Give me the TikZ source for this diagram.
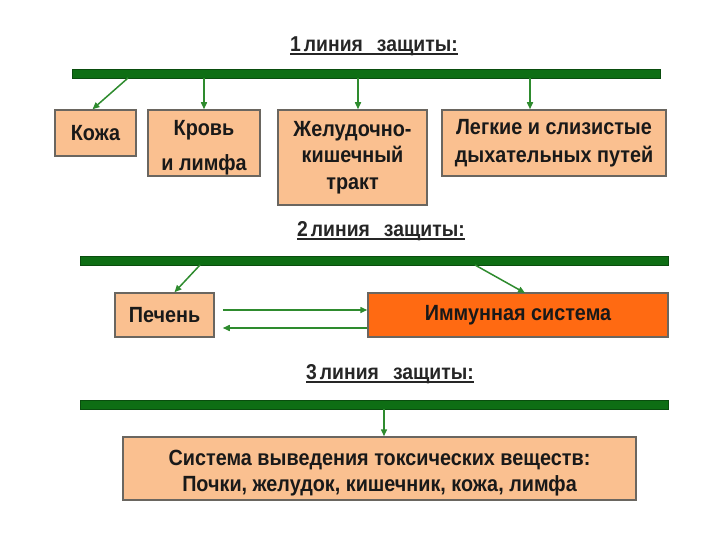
\documentclass[tikz,border=0pt]{standalone}
\usepackage{fontspec}
\setmainfont{Liberation Sans}[FakeStretch=0.9]
\usetikzlibrary{arrows.meta}
\newcommand\thul[1]{\setbox0\hbox{#1}\makebox[0pt][l]{\rule[-3.5pt]{\wd0}{1.4pt}}\box0}
\newcommand\tallstrut{\rule{0pt}{24pt}}
\definecolor{peach}{HTML}{FAC090}
\definecolor{barg}{HTML}{0E6E14}
\definecolor{arrg}{HTML}{2E8B2E}
\definecolor{imm}{HTML}{FF6A12}
\definecolor{bord}{HTML}{6A6660}
\tikzset{
  box/.style={draw=bord, line width=1.5pt, fill=peach, align=center, inner sep=0pt,
    font=\bfseries\fontsize{22}{27}\selectfont, text=black!90},
  bar/.style={fill=barg, draw=barg!70!black, line width=0.6pt, inner sep=0pt, minimum height=9pt},
  arr/.style={draw=arrg, line width=1.5pt, -{Triangle[length=7pt,width=6pt]}},
  ttl/.style={font=\bfseries\fontsize{21.5}{22}\selectfont, text=black!85}
}
\begin{document}
\begin{tikzpicture}[x=1pt,y=-1pt]
\useasboundingbox (0,0) rectangle (720,540);
% ---------- line 1
\node[ttl] (t1) at (374,46) {\thul{1\hspace{3pt}линия\hspace{14pt}защиты:}};
\node[bar, minimum width=588] (bar1) at (366,73.5) {};
\node[box, minimum width=81, minimum height=46] (kozha) at (95.5,133) {Кожа};
\node[box, minimum width=112, minimum height=66, font=\bfseries\fontsize{22}{35}\selectfont] (krov) at (204,143) {\tallstrut Кровь\\и лимфа};
\node[box, minimum width=149, minimum height=95, font=\bfseries\fontsize{22}{26.5}\selectfont] (zhel) at (352.5,157.5) {Желудочно-\\кишечный\\тракт};
\node[box, minimum width=224, minimum height=66, font=\bfseries\fontsize{22}{28}\selectfont] (leg) at (554,143) {Легкие и слизистые\\дыхательных путей};
\coordinate (s1) at (128,78);
\coordinate (s2) at (204,78);
\coordinate (s3) at (358,78);
\coordinate (s4) at (530,78);
\draw[arr] (s1) -- ([xshift=-3pt]kozha.north);
\draw[arr] (s2) -- (krov.north);
\draw[arr] (s3) -- (s3 |- zhel.north);
\draw[arr] (s4) -- (s4 |- leg.north);
% ---------- line 2
\node[ttl] (t2) at (381,231) {\thul{2\hspace{3pt}линия\hspace{14pt}защиты:}};
\node[bar, minimum width=588] (bar2) at (374,260.5) {};
\node[box, minimum width=99, minimum height=44] (pech) at (164.5,315) {Печень};
\node[box, fill=imm, minimum width=300, minimum height=44] (imm) at (518,315) {Иммунная система};
\coordinate (s5) at (200,265);
\coordinate (s6) at (475,265);
\coordinate (e6) at (525,293);
\draw[arr] (s5) -- ([xshift=10pt]pech.north);
\draw[arr] (s6) -- (e6);
\draw[arr] ([xshift=8pt,yshift=5pt]pech.east) -- ([yshift=5pt]imm.west);
\draw[arr] ([yshift=-13pt]imm.west) -- ([xshift=8pt,yshift=-13pt]pech.east);
% ---------- line 3
\node[ttl] (t3) at (390,374) {\thul{3\hspace{3pt}линия\hspace{14pt}защиты:}};
\node[bar, minimum width=588] (bar3) at (374,404.5) {};
\node[box, minimum width=513, minimum height=63, font=\bfseries\fontsize{22}{26}\selectfont] (sys) at (379.5,468.5) {\tallstrut Система выведения токсических веществ:\\Почки, желудок, кишечник, кожа, лимфа};
\coordinate (s7) at (384,409);
\draw[arr] (s7) -- (s7 |- sys.north);
\end{tikzpicture}
\end{document}
